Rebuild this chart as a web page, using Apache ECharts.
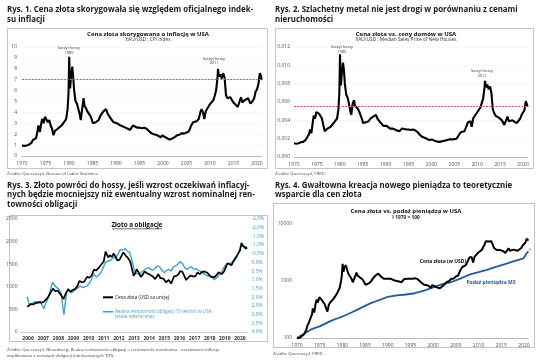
<!DOCTYPE html>
<html><head><meta charset="utf-8">
<script src="https://cdn.jsdelivr.net/npm/echarts@6/dist/echarts.min.js"></script>
<style>html,body{margin:0;padding:0;background:#fff}#c{width:536px;height:363px}</style>
</head><body><div id="c"></div>
<script>
// ---- Charts 1, 2, 4: gold series (shared time points) ----
const yearsGold = [1970.0,1970.5,1971.0,1971.5,1972.0,1972.3,1972.6,1973.0,1973.3,1973.5,1973.8,1974.1,1974.3,1974.6,1974.9,1975.2,1975.5,1975.8,1976.1,1976.4,1976.7,1977.0,1977.3,1977.6,1978.0,1978.4,1978.8,1979.1,1979.4,1979.7,1979.9,1980.05,1980.15,1980.25,1980.45,1980.7,1980.9,1981.1,1981.4,1981.7,1982.0,1982.3,1982.5,1982.8,1983.1,1983.3,1983.6,1983.9,1984.2,1984.5,1984.8,1985.1,1985.4,1985.7,1986.0,1986.3,1986.7,1987.0,1987.3,1987.6,1987.9,1988.2,1988.5,1988.8,1989.1,1989.5,1989.9,1990.2,1990.6,1991.0,1991.5,1992.0,1992.5,1993.0,1993.6,1994.0,1994.5,1995.0,1995.5,1996.0,1996.5,1997.0,1997.5,1998.0,1998.5,1999.0,1999.5,1999.8,2000.2,2000.6,2001.0,2001.4,2001.8,2002.2,2002.6,2003.0,2003.5,2004.0,2004.5,2005.0,2005.5,2006.0,2006.4,2006.8,2007.2,2007.6,2008.0,2008.2,2008.5,2008.8,2009.1,2009.5,2009.9,2010.3,2010.7,2011.0,2011.3,2011.6,2011.7,2011.9,2012.2,2012.5,2012.8,2013.1,2013.4,2013.7,2014.0,2014.3,2014.7,2015.0,2015.4,2015.9,2016.3,2016.6,2016.9,2017.3,2017.7,2018.1,2018.6,2019.0,2019.4,2019.7,2020.0,2020.3,2020.6,2020.8,2021.0];
const goldToCPI = [0.95,0.93,0.97,1.05,1.2,1.45,1.6,1.65,2.3,2.8,2.2,3.0,3.4,3.0,3.6,3.5,3.1,3.3,2.8,2.5,1.9,2.3,2.4,2.5,2.6,2.8,3.0,3.0,3.4,4.3,5.8,9.1,7.0,6.2,7.4,8.2,7.2,6.0,5.0,4.8,4.3,3.8,3.3,4.3,5.3,4.6,4.4,4.1,4.0,3.7,3.4,3.0,3.05,3.1,3.2,3.3,3.7,3.8,4.1,4.0,4.3,3.9,3.7,3.5,3.3,3.1,3.2,3.0,3.0,2.8,2.7,2.6,2.5,2.4,2.8,2.65,2.6,2.6,2.55,2.6,2.5,2.3,2.1,2.0,1.95,1.85,1.7,1.9,1.8,1.7,1.6,1.5,1.55,1.65,1.75,1.9,1.95,2.1,2.05,2.15,2.25,2.8,3.1,3.0,3.2,3.4,4.1,4.3,4.0,3.4,4.1,4.0,4.7,4.8,5.1,5.5,6.0,7.2,8.0,7.3,7.5,7.1,7.6,7.2,5.6,5.3,5.2,5.4,5.1,4.9,4.8,4.5,5.0,5.4,4.9,5.1,5.2,5.3,4.8,5.0,5.3,5.9,6.1,6.6,7.6,7.4,7.0];
const goldToHouses = [0.0015,0.00145,0.0015,0.0016,0.00165,0.0017,0.0019,0.0021,0.0025,0.003,0.0026,0.0038,0.0045,0.0042,0.0049,0.005,0.0047,0.0048,0.0042,0.0035,0.0028,0.003,0.0031,0.0032,0.0033,0.0034,0.0038,0.004,0.0042,0.0052,0.007,0.0112,0.0085,0.0078,0.0092,0.0103,0.0095,0.008,0.0068,0.0065,0.0058,0.005,0.0046,0.0058,0.0062,0.0056,0.0058,0.0053,0.005,0.0046,0.0042,0.0037,0.0039,0.0038,0.0037,0.0039,0.0042,0.0043,0.0044,0.0043,0.0046,0.0042,0.0041,0.0038,0.0036,0.0034,0.0036,0.0034,0.0033,0.0031,0.0031,0.003,0.0029,0.0028,0.0031,0.003,0.003,0.003,0.00295,0.003,0.0029,0.0027,0.0024,0.0022,0.0021,0.002,0.00185,0.002,0.0019,0.0018,0.0017,0.00165,0.00165,0.0017,0.00175,0.00185,0.00185,0.00195,0.0019,0.00195,0.002,0.0024,0.0027,0.0026,0.0028,0.003,0.0038,0.004,0.0039,0.0033,0.0042,0.0041,0.0048,0.005,0.0054,0.0059,0.0064,0.0076,0.0083,0.0076,0.0079,0.0074,0.0077,0.007,0.0052,0.0048,0.0045,0.0046,0.0043,0.0042,0.004,0.0035,0.004,0.0044,0.0039,0.004,0.004,0.0041,0.0037,0.0039,0.0042,0.0046,0.0047,0.0051,0.0061,0.0058,0.0055];
const goldIndex = [100,100,107,115,135,165,185,190,260,330,280,400,470,420,520,500,460,470,390,360,290,380,420,420,480,520,600,650,760,1000,1300,2000,1650,1450,1700,1900,1750,1500,1300,1250,1100,950,900,1200,1400,1250,1220,1150,1100,1050,950,860,880,900,950,980,1100,1150,1250,1250,1350,1250,1200,1150,1100,1050,1100,1080,1100,1050,1020,1000,980,950,1080,1070,1090,1090,1100,1120,1090,1000,920,860,850,820,760,850,820,790,760,740,780,830,880,960,990,1100,1100,1200,1250,1550,1750,1700,1900,2000,2600,2750,2600,2100,2650,2650,3150,3250,3500,3900,4300,5000,5300,4900,4950,4650,5000,4700,3800,3600,3500,3650,3500,3400,3350,3100,3450,3750,3400,3500,3550,3650,3400,3550,3800,4200,4400,4700,5500,5300,5100];
const m3Years = [1970,1971,1972,1973,1974,1975,1976,1977,1978,1979,1980,1982,1984,1986,1988,1990,1992,1994,1996,1998,2000,2002,2004,2006,2008,2010,2012,2014,2016,2018,2019,2019.9,2020.3,2020.6,2021];
const m3Index = [100,112,125,140,150,160,175,192,208,222,238,280,335,400,460,525,560,580,610,680,770,880,960,1100,1300,1430,1580,1780,2000,2250,2380,2500,2800,3100,3300];

// ---- Chart 3: gold vs real yields ----
const c3Categories = ['2006','2007','2008','2009','2010','2011','2012','2013','2014','2015','2016','2017','2018','2019','2020'];
const c3GoldYears = [2006.45,2006.55,2006.7,2006.85,2007.0,2007.2,2007.4,2007.55,2007.7,2007.85,2008.0,2008.15,2008.3,2008.45,2008.6,2008.75,2008.85,2009.0,2009.15,2009.3,2009.45,2009.6,2009.75,2009.9,2010.05,2010.2,2010.4,2010.55,2010.7,2010.85,2011.0,2011.2,2011.35,2011.5,2011.62,2011.7,2011.8,2011.9,2012.05,2012.15,2012.3,2012.4,2012.55,2012.7,2012.8,2012.95,2013.1,2013.25,2013.35,2013.48,2013.58,2013.68,2013.8,2013.95,2014.1,2014.2,2014.35,2014.5,2014.6,2014.75,2014.88,2015.0,2015.1,2015.25,2015.45,2015.6,2015.8,2015.95,2016.05,2016.15,2016.3,2016.45,2016.55,2016.7,2016.85,2016.95,2017.1,2017.25,2017.4,2017.55,2017.7,2017.85,2018.0,2018.15,2018.35,2018.55,2018.65,2018.8,2018.95,2019.1,2019.3,2019.45,2019.55,2019.68,2019.8,2019.95,2020.1,2020.2,2020.3,2020.4,2020.5,2020.6,2020.7,2020.8,2020.9,2020.97];
const c3Gold = [560,600,620,610,640,660,650,670,720,790,880,960,900,920,850,780,730,860,950,890,930,950,1010,1130,1100,1110,1220,1200,1250,1380,1360,1430,1500,1560,1780,1820,1650,1700,1660,1740,1650,1580,1600,1700,1760,1690,1640,1560,1420,1240,1300,1390,1320,1220,1280,1340,1300,1280,1310,1230,1170,1220,1280,1190,1180,1100,1150,1070,1100,1230,1240,1280,1350,1330,1220,1150,1210,1250,1230,1230,1320,1280,1330,1340,1310,1230,1190,1210,1260,1320,1280,1340,1420,1520,1490,1480,1590,1600,1690,1720,1800,1970,1910,1880,1840,1870];
const c3YieldYears = [2006.45,2006.55,2006.7,2006.85,2007.0,2007.15,2007.3,2007.45,2007.55,2007.7,2007.85,2008.0,2008.12,2008.25,2008.4,2008.55,2008.7,2008.8,2008.87,2008.95,2009.05,2009.2,2009.35,2009.5,2009.65,2009.8,2009.95,2010.1,2010.25,2010.4,2010.55,2010.7,2010.85,2011.0,2011.15,2011.3,2011.45,2011.6,2011.7,2011.85,2012.0,2012.15,2012.3,2012.45,2012.6,2012.75,2012.9,2013.05,2013.2,2013.35,2013.48,2013.6,2013.72,2013.85,2014.0,2014.15,2014.3,2014.45,2014.6,2014.75,2014.9,2015.05,2015.2,2015.35,2015.5,2015.65,2015.8,2015.95,2016.1,2016.25,2016.4,2016.55,2016.7,2016.85,2017.0,2017.15,2017.3,2017.45,2017.6,2017.75,2017.9,2018.05,2018.2,2018.35,2018.5,2018.65,2018.8,2018.9,2019.05,2019.2,2019.35,2019.5,2019.65,2019.8,2019.95,2020.1,2020.2,2020.3,2020.45,2020.6,2020.7,2020.8,2020.9,2020.97];
const c3RealYield = [1.97,2.35,2.4,2.3,2.25,2.35,2.25,2.5,2.65,2.3,2.0,1.5,1.15,1.3,1.45,1.55,1.8,2.6,3.0,2.4,1.7,1.6,1.75,1.65,1.55,1.45,1.35,1.45,1.4,1.35,1.2,0.95,0.65,0.85,0.75,0.6,0.35,0.0,0.1,-0.1,-0.15,-0.3,-0.25,-0.5,-0.75,-0.7,-0.8,-0.65,-0.6,-0.2,0.3,0.6,0.5,0.7,0.55,0.45,0.35,0.3,0.4,0.45,0.35,0.2,0.25,0.45,0.6,0.45,0.4,0.5,0.25,0.2,0.1,-0.05,0.05,0.3,0.4,0.3,0.25,0.4,0.35,0.45,0.5,0.6,0.7,0.75,0.8,0.85,1.0,0.95,0.8,0.65,0.45,0.2,0.05,0.1,0.0,-0.05,-0.1,-0.3,-0.65,-1.0,-1.05,-0.9,-0.95,-0.9];

const FF = '"Open Sans", "DejaVu Sans", sans-serif';
const pairs = (xs, ys) => xs.map((x, i) => [x, ys[i]]);
const lab = { fontSize: 5, color: '#555', fontFamily: FF };
const yearFmt = v => (v % 5 === 0 ? String(v) : '');
const BLUE3 = '#3aa3d2';
const BLUE4 = '#1f5d9c';
const RED = '#e0505a';

function txt(x, y, text, o) {
  o = o || {};
  return { type: 'text', silent: true, z: 100, style: Object.assign({
    x: x, y: y, text: text, fill: o.fill || '#222',
    fontSize: o.size || 5, fontWeight: o.weight || 'normal', fontFamily: FF,
    align: o.align || 'left', verticalAlign: 'middle'
  }, o.font ? { font: o.font } : {}) };
}
function box(x, y, w, h) {
  return { type: 'rect', silent: true, shape: { x: x, y: y, width: w, height: h },
    style: { fill: 'none', stroke: '#c4c4c4', lineWidth: 1 } };
}
function seg(x1, y1, x2, y2, color, w) {
  return { type: 'line', silent: true, z: 100, shape: { x1: x1, y1: y1, x2: x2, y2: y2 },
    style: { stroke: color, lineWidth: w } };
}
const H = { size: 7.9, weight: 'bold', fill: '#1b1b1b' };
const T = { size: 6, weight: 'bold', fill: '#111', align: 'center' };
const S = { size: 4.8, fill: '#333', align: 'center' };
const A = { size: 3.8, fill: '#333', align: 'center' };
const SRC = { size: 4.3, fill: '#444', font: 'small-caps 4.6px "Open Sans"' };

const graphic = [
  box(7.5, 28.5, 260, 140), box(275.5, 28.5, 258, 140),
  box(9.5, 215.5, 258, 126), box(273.5, 203.5, 261, 144),
  txt(7, 10, 'Rys. 1. Cena złota skorygowała się względem oficjalnego indek-', H),
  txt(7, 19.5, 'su inflacji', H),
  txt(275, 10, 'Rys. 2. Szlachetny metal nie jest drogi w porównaniu z cenami', H),
  txt(275, 19.5, 'nieruchomości', H),
  txt(7, 185.5, 'Rys. 3. Złoto powróci do hossy, jeśli wzrost oczekiwań inflacyj-', H),
  txt(7, 195, 'nych będzie mocniejszy niż ewentualny wzrost nominalnej ren-', H),
  txt(7, 204.5, 'towności obligacji', H),
  txt(275, 185.5, 'Rys. 4. Gwałtowna kreacja nowego pieniądza to teoretycznie', H),
  txt(275, 195, 'wsparcie dla cen złota', H),
  txt(148, 34, 'Cena złota skorygowana o inflację w USA', T),
  txt(148, 39.8, 'XAU/USD : CPI Index', S),
  txt(406, 34, 'Cena złota vs. ceny domów w USA', T),
  txt(406, 40, 'XAU/USD : Median Sales Price of New Houses', S),
  txt(406, 211, 'Cena złota vs. podaż pieniądza w USA', T),
  txt(406, 217.5, 'I 1970 = 100', { size: 4.8, weight: 'bold', fill: '#222', align: 'center' }),
  txt(137, 225, 'Złoto a obligacje', { size: 6.3, weight: 'bold', fill: '#111', align: 'center' }),
  seg(112, 228.8, 162, 228.8, '#111', 0.6),
  txt(69, 48, 'Szczyt hossy', A), txt(69, 52.5, '1980', A),
  txt(214, 58.5, 'Szczyt hossy', A), txt(214, 63, '2011', A),
  txt(342, 47, 'Szczyt hossy', A), txt(342, 51.5, '1980', A),
  txt(482, 71, 'Szczyt hossy', A), txt(482, 75.5, '2011', A),
  txt(443, 262, 'Cena złota (w USD)', { size: 5, weight: 'bold', fill: '#111', align: 'center' }),
  txt(491, 283, 'Podaż pieniądza M3', { size: 5, weight: 'bold', fill: BLUE4, align: 'center' }),
  txt(530, 250, '*', { size: 6, fill: RED, align: 'center' }),
  seg(103, 297.3, 113, 297.3, '#000', 2),
  txt(115, 297.3, 'Cena złota (USD za uncję)', { size: 4.6, fill: '#111' }),
  seg(103, 311.7, 113, 311.7, BLUE3, 1.6),
  txt(115, 311.7, 'Realna rentowność obligacji 10-letnich w USA', { size: 4.6, fill: BLUE3 }),
  txt(115, 316.9, '(skala odwrócona)', { size: 4.6, fill: BLUE3 }),
  txt(7, 173.5, 'Źródło: Quercus.pl, Bureau of Labor Statistics.', SRC),
  txt(275, 173.5, 'Źródło: Quercus.pl, FRED.', SRC),
  txt(7, 350, 'Źródło: Quercus.pl, Bloomberg. Realna rentowność obligacji = rentowność nominalna - oczekiwana inflacja', SRC),
  txt(7, 355.5, 'implikowana z notowań obligacji indeksowanych TIPS.', SRC),
  txt(273, 353.5, 'Źródło: Quercus.pl, FRED.', SRC)
];

const yearAxis = (gi) => ({
  type: 'value', gridIndex: gi, min: 1970, max: 2021, interval: 5,
  axisLine: { lineStyle: { color: '#aaa', width: 0.8 } }, axisTick: { show: false },
  splitLine: { show: false }, axisLabel: Object.assign({}, lab, { margin: 5, formatter: yearFmt })
});
const redLine = (v) => ({
  silent: true, symbol: 'none', animation: false, precision: 6, label: { show: false },
  lineStyle: { color: RED, type: [2, 1.2], width: 1 }, data: [{ yAxis: v }]
});
const lineS = (color, w) => ({ type: 'line', showSymbol: false, symbol: 'none', lineStyle: { color: color, width: w }, z: 3 });

const option = {
  animation: false,
  graphic: graphic,
  grid: [
    { left: 22, top: 47, width: 239.7, height: 109 },
    { left: 294, top: 47, width: 233.6, height: 110 },
    { left: 20.5, top: 219, width: 227, height: 113 },
    { left: 297, top: 224, width: 231.5, height: 114 }
  ],
  xAxis: [
    yearAxis(0), yearAxis(1),
    { type: 'category', gridIndex: 2, data: c3Categories, boundaryGap: true,
      axisLine: { lineStyle: { color: '#bbb', width: 0.8 } }, axisTick: { show: false },
      axisLabel: Object.assign({}, lab, { color: '#333', fontWeight: 'bold', margin: 4, interval: 0 }) },
    { type: 'value', gridIndex: 2, min: 2006, max: 2021, show: false },
    yearAxis(3)
  ],
  yAxis: [
    { type: 'value', gridIndex: 0, min: 0, max: 10, interval: 1, axisLine: { show: false }, axisTick: { show: false },
      splitLine: { lineStyle: { color: '#f2f2f2', width: 0.6 } }, axisLabel: Object.assign({}, lab, { margin: 5 }) },
    { type: 'value', gridIndex: 1, min: 0, max: 0.012, interval: 0.002, axisLine: { show: false }, axisTick: { show: false },
      splitLine: { lineStyle: { color: '#f2f2f2', width: 0.6 } },
      axisLabel: Object.assign({}, lab, { margin: 4, formatter: v => v.toFixed(3).replace('.', ',') }) },
    { type: 'value', gridIndex: 2, min: 0, max: 2500, interval: 500, axisLine: { show: false }, axisTick: { show: false },
      splitLine: { show: false }, axisLabel: Object.assign({}, lab, { margin: 3, formatter: v => String(v) }) },
    { type: 'value', gridIndex: 2, position: 'right', inverse: true, min: -2.5, max: 4, interval: 0.5,
      axisLine: { show: false }, axisTick: { show: false }, splitLine: { show: false },
      axisLabel: Object.assign({}, lab, { color: BLUE3, margin: 4, formatter: v => v.toFixed(1).replace('.', ',') + '%' }) },
    { type: 'log', gridIndex: 3, logBase: 10, min: 100, max: 10000, axisLine: { show: false }, axisTick: { show: false },
      splitLine: { show: false }, axisLabel: Object.assign({}, lab, { margin: 5, formatter: v => String(Math.round(v)) }) }
  ],
  series: [
    Object.assign(lineS('#000', 2.1), { xAxisIndex: 0, yAxisIndex: 0, data: pairs(yearsGold, goldToCPI), markLine: redLine(7) }),
    Object.assign(lineS('#000', 2.1), { xAxisIndex: 1, yAxisIndex: 1, data: pairs(yearsGold, goldToHouses), markLine: redLine(0.0055) }),
    Object.assign(lineS(BLUE3, 1.4), { xAxisIndex: 3, yAxisIndex: 3, data: pairs(c3YieldYears, c3RealYield) }),
    Object.assign(lineS('#000', 1.7), { xAxisIndex: 3, yAxisIndex: 2, data: pairs(c3GoldYears, c3Gold) }),
    Object.assign(lineS(BLUE4, 1.8), { xAxisIndex: 4, yAxisIndex: 4, data: pairs(m3Years, m3Index) }),
    Object.assign(lineS('#000', 2.0), { xAxisIndex: 4, yAxisIndex: 4, data: pairs(yearsGold, goldIndex) })
  ]
};
const chart = echarts.init(document.getElementById('c'), null, { renderer: 'canvas' });
chart.setOption(option);
</script></body></html>
